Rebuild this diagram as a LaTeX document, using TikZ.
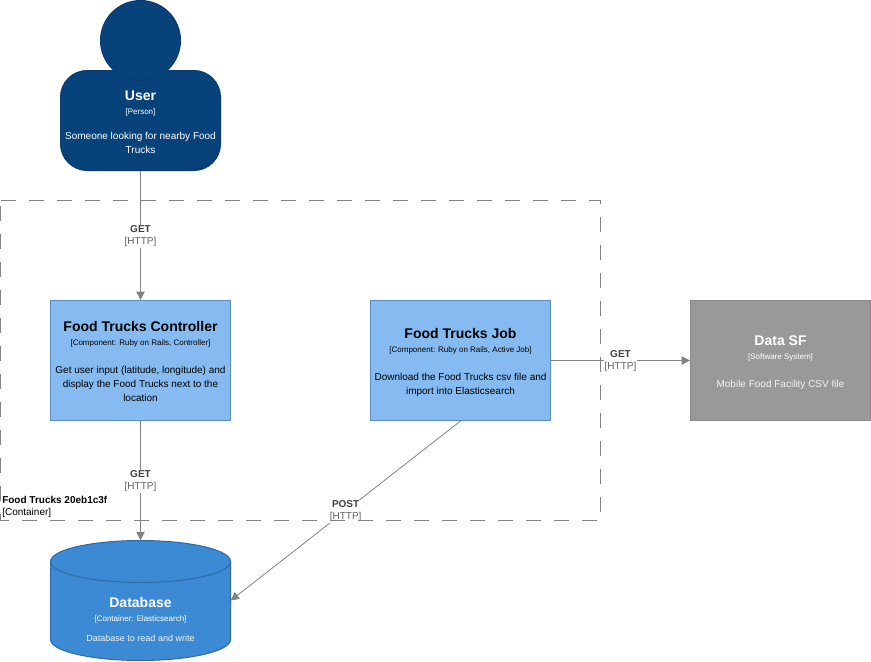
\documentclass[tikz,border=0pt]{standalone}
\usepackage{fontspec}
\setmainfont{Liberation Sans}
\usetikzlibrary{arrows.meta}
\definecolor{edgegray}{HTML}{828282}
\definecolor{labeldark}{HTML}{404040}
\definecolor{labelgray}{HTML}{606060}
\definecolor{personfill}{HTML}{08427B}
\definecolor{personline}{HTML}{073B6F}
\definecolor{compfill}{HTML}{85BBF0}
\definecolor{compline}{HTML}{5D8DBE}
\definecolor{dbfill}{HTML}{3C8AD4}
\definecolor{dbline}{HTML}{2E6AA5}
\definecolor{extfill}{HTML}{999999}
\definecolor{extline}{HTML}{8A8A8A}
\definecolor{softwhite}{HTML}{F2F2F2}
\newcommand{\boxtitle}{\fontsize{10.5}{10.5}\selectfont\bfseries}
\newcommand{\boxtag}{\fontsize{6}{10.5}\selectfont\mdseries}
\newcommand{\boxdesc}{\fontsize{7.5}{10.5}\selectfont\mdseries}
\newcommand{\boxdescsmall}{\fontsize{6.75}{10.5}\selectfont\mdseries}
\newcommand{\boxlead}[1]{\rule{0pt}{#1}}
\tikzset{
  x=0.75pt,y=-0.75pt,
  boxbase/.style={rectangle,inner sep=0pt,align=center,minimum width=135pt,minimum height=90pt,line width=0.75pt,font=\fontsize{7.5}{10.5}\selectfont},
  compbox/.style={boxbase,draw=compline,fill=compfill,text=black},
  extbox/.style={boxbase,draw=extline,fill=extfill,text=white},
  inner text/.style={inner sep=0pt,align=center,text=white,font=\fontsize{7.5}{10.5}\selectfont},
  conn/.style={draw=edgegray,line width=0.75pt,-{Triangle[length=6.2pt,width=6.2pt]}},
  edgelabel/.style={fill=white,inner sep=0.6pt,align=center,font=\fontsize{7.5}{9}\selectfont},
  boundary/.style={draw=edgegray,line width=0.75pt,dash pattern=on 11.25pt off 9.75pt}
}
\newcommand{\httplabel}[1]{{\bfseries\color{labeldark}#1}\\{\color{labelgray}[HTTP]}}
\begin{document}
\begin{tikzpicture}
\useasboundingbox (0,0) rectangle (871,661);
% person
\node[rectangle,rounded corners=20pt,draw=personline,fill=personfill,line width=0.75pt,minimum width=120pt,minimum height=75pt,inner sep=0pt] (userbody) at (140.5,120.5) {};
\node[circle,draw=personline,fill=personfill,line width=0.75pt,minimum size=60pt,inner sep=0pt] (userhead) at (140.5,40.5) {};
\node[inner text] (usertext) at (140.5,122) {\boxtitle User\\\boxtag {[Person]}\\[8.25pt]\boxdesc Someone looking for nearby Food\\\boxdesc Trucks};
% components
\node[compbox] (controller) at (140.5,360.5) {\boxlead{9.1pt}\boxtitle Food Trucks Controller\\\boxtag {[Component: Ruby on Rails, Controller]}\\[10.3pt]\boxdesc Get user input (latitude, longitude) and\\\boxdesc display the Food Trucks next to the\\\boxdesc location};
\node[compbox] (job) at (460.5,360.5) {\boxlead{10.6pt}\boxtitle Food Trucks Job\\\boxtag {[Component: Ruby on Rails, Active Job]}\\[10.3pt]\boxdesc Download the Food Trucks csv file and\\\boxdesc import into Elasticsearch};
\node[extbox] (datasf) at (780.5,360.5) {\boxlead{10.6pt}\boxtitle Data SF\\\boxtag {[Software System]}\\[10.3pt]\color{softwhite}\boxdesc Mobile Food Facility CSV file};
% database
\node[rectangle,inner sep=0pt,minimum width=135pt,minimum height=90pt] (db) at (140.5,600.5) {};
\draw[draw=dbline,fill=dbfill,line width=0.75pt] (50.5,561.5) arc[start angle=180,end angle=360,x radius=90,y radius=21] -- (230.5,639.5) arc[start angle=0,end angle=180,x radius=90,y radius=21] -- cycle;
\draw[draw=dbline,line width=0.75pt] (50.5,561.5) arc[start angle=180,end angle=0,x radius=90,y radius=21];
\node[inner text] (dbtext) at (140.5,619.5) {\boxtitle Database\\\boxtag {[Container: Elasticsearch]}\\[5pt]\color{softwhite}\boxdescsmall Database to read and write};
% connectors
\draw[conn] (userbody.south) -- node[edgelabel,yshift=-0.5pt] (l1) {\httplabel{GET}} (controller.north);
\draw[conn] (controller.south) -- node[edgelabel,yshift=-0.5pt] (l2) {\httplabel{GET}} (db.north);
\draw[conn] (job.east) -- node[edgelabel,yshift=-0.5pt] (l3) {\httplabel{GET}} (datasf.west);
\draw[conn,line width=0.6pt] (job.south) -- node[edgelabel,yshift=-0.5pt] (l4) {\httplabel{POST}} (db.east);
% boundary
\coordinate (bnw) at (0.5,200.5);
\coordinate (bne) at (600.5,200.5);
\coordinate (bse) at (600.5,520.5);
\coordinate (bsw) at (0.5,520.5);
\draw[boundary] (bnw) -- (bne) -- (bse) -- (bsw) -- cycle;
\node[anchor=south west,inner sep=0pt,align=left,font=\fontsize{7.5}{9}\selectfont] (blabel) at (2,517.5) {\textbf{Food Trucks 20eb1c3f}\\{[Container]}};
\end{tikzpicture}
\end{document}
